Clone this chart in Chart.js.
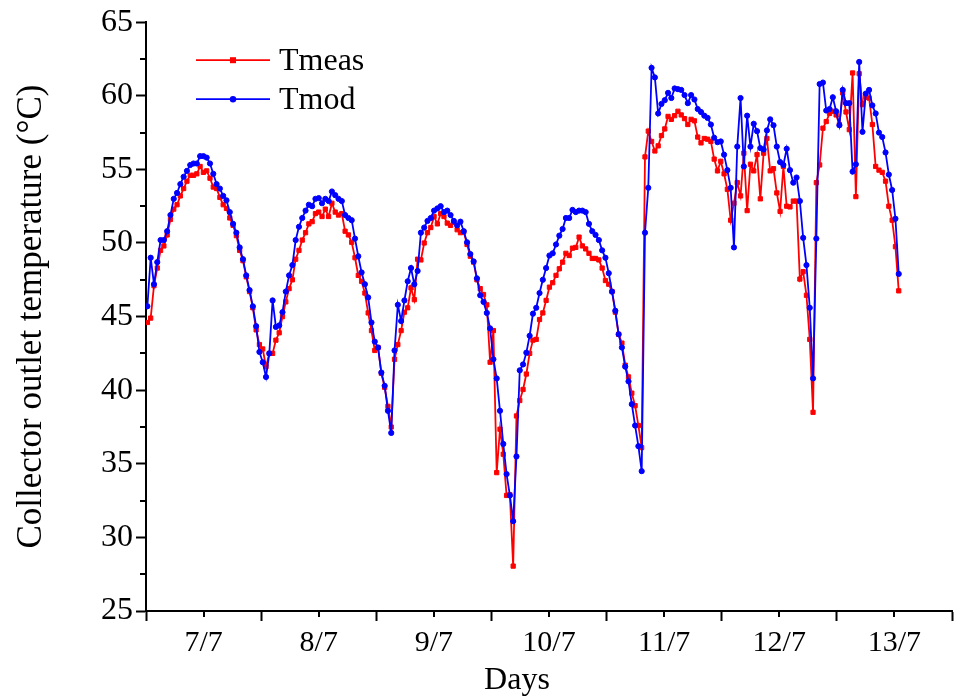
<!DOCTYPE html>
<html lang="en">
<head>
    <meta charset="UTF-8">
    <title>Collector outlet temperature</title>
    <script src="https://cdn.jsdelivr.net/npm/chart.js"></script>
    <style>
        html, body { margin: 0; padding: 0; background: #fff; }
        #wrap { width: 960px; height: 700px; }
    </style>
</head>
<body>
<div id="wrap"><canvas id="tempChart" width="960" height="700"></canvas></div>
<script>
    // Day labels, one per day (centred between the day ticks)
    const dayLabels = ['7/7', '8/7', '9/7', '10/7', '11/7', '12/7', '13/7'];

    // Logging: time of first sample and sample interval, in days from the 7/7 tick
    const firstSample = 0.012;
    const sampleStep = 0.02862;

    // Measured collector outlet temperature, °C
    const tMeas = [
        44.6, 44.9, 47.1, 48.3, 49.5, 49.8, 50.55, 51.6, 52.3, 52.6, 53.2, 53.7, 54.2, 54.6, 54.6, 54.7,
        55.2, 54.8, 54.9, 54.4, 53.8, 53.7, 53.1, 52.6, 52.35, 51.7, 51.2, 50.5, 49.5, 48.8, 47.7, 46.7,
        45.6, 44.1, 43.1, 42.8, 41.6,
        42.5, 42.5, 43.4, 43.9, 45.0, 46.0, 46.9, 47.5, 48.9, 49.5, 50.2, 50.7, 51.3, 51.45, 52.0, 52.1,
        51.8, 52.3, 51.8, 52.7, 52.1, 51.9, 52.0, 50.8, 50.55, 50.05, 49.0, 47.8, 47.4, 46.6, 45.25, 44.05,
        42.7, 42.9, 41.15, 40.2, 38.9, 37.5,
        42.1, 43.1, 44.05, 45.3, 45.6, 46.95, 46.15, 48.9, 48.85, 50.0, 50.7, 51.05, 51.8, 51.3, 52.0, 51.8,
        51.35, 51.2, 51.4, 50.9, 50.7, 50.75, 49.9, 49.1, 48.7, 47.5, 46.9, 46.5, 45.8, 41.9, 44.05,
        34.4, 37.35, 35.65, 32.85, 32.9, 28.05, 38.25, 39.3, 40.05, 41.1, 42.5, 43.4, 43.45, 44.8, 45.25,
        46.1, 47.0, 47.3, 47.8, 48.25, 48.7, 49.3, 49.15, 49.65, 49.7, 50.4, 49.8, 49.6, 49.3, 48.95, 48.95,
        48.85, 48.3, 47.45, 47.2, 46.7, 45.3, 43.8, 43.2, 41.7, 40.9, 39.8, 38.95, 37.6, 36.1,
        55.85, 57.6, 56.9, 56.25, 56.6, 57.3, 57.75, 58.6, 58.4, 58.65, 58.95, 58.7, 58.45, 58.05, 58.4,
        58.3, 57.2, 56.8, 57.1, 57.05, 56.9, 55.7, 54.9, 55.55, 54.7, 53.65, 51.55, 52.7, 54.1, 53.2, 56.1,
        52.2, 55.35, 54.9, 56.0, 53.0, 56.1,
        57.1, 54.9, 55.05, 53.4, 52.15, 55.2, 52.5, 52.45, 52.85, 52.85, 47.55, 48.05, 46.45, 43.45, 38.5,
        54.1, 55.3, 57.8, 58.25, 58.8, 58.95, 58.7, 58.05, 60.2, 58.9, 57.7, 61.55, 53.15, 61.5, 59.4, 59.9,
        59.85, 58.05, 55.2, 54.95, 54.8, 54.2, 52.5, 51.55, 49.75, 46.75
    ];

    // Modelled collector outlet temperature, °C
    const tMod = [
        45.7, 49.0, 47.2, 48.7, 50.2, 50.2, 50.8, 51.9, 53.0, 53.4, 54.0, 54.5, 54.9, 55.3, 55.4, 55.4,
        55.9, 55.9, 55.8, 55.4, 54.7, 54.0, 53.7, 53.2, 52.9, 52.1, 51.3, 50.7, 49.7, 48.9, 47.8, 46.8,
        45.7, 44.35, 42.6, 41.9, 40.9,
        42.5, 46.1, 44.3, 44.4, 45.3, 46.7, 47.8, 48.5, 50.2, 51.1, 51.7, 52.2, 52.6, 52.5, 53.0, 53.05,
        52.7, 53.0, 52.85, 53.5, 53.25, 53.0, 52.85, 51.9, 51.7, 51.55, 50.3, 49.1, 48.0, 47.2, 46.3, 44.6,
        43.3, 42.9, 41.2, 40.3, 38.6, 37.1,
        42.7, 45.8, 44.7, 46.1, 47.4, 48.3, 47.2, 48.1, 50.7, 51.05, 51.5, 51.7, 52.2, 52.35, 52.5, 52.1,
        52.2, 51.9, 51.5, 51.2, 51.45, 50.8, 50.05, 49.25, 48.75, 47.6, 46.45, 46.0, 45.25, 44.2, 42.1,
        40.8, 38.6, 36.35, 34.3, 32.85, 31.1, 35.5, 41.35, 41.75, 42.55, 43.7, 45.2, 45.6, 46.6, 47.5,
        48.3, 49.15, 49.3, 49.9, 50.5, 50.95, 51.7, 51.7, 52.25, 52.1, 52.2, 52.2, 52.1, 51.3, 50.8, 50.55,
        50.2, 49.5, 49.0, 47.95, 46.7, 45.4, 43.8, 42.9, 41.6, 40.6, 39.05, 37.6, 36.2, 34.5,
        50.7, 53.75, 61.9, 61.25, 58.8, 59.45, 59.7, 60.2, 59.85, 60.5, 60.45, 60.4, 60.05, 59.5, 60.05,
        59.75, 59.1, 58.9, 58.65, 58.5, 58.05, 57.15, 56.85, 56.9, 56.0, 54.95, 53.75, 49.7, 56.55, 59.85,
        55.2, 58.65, 56.55, 58.1, 57.6, 56.45, 56.35,
        57.65, 58.4, 58.0, 56.55, 55.5, 55.3, 56.4, 54.95, 54.1, 54.45, 52.85, 50.35, 48.5, 45.6, 40.8,
        50.3, 60.8, 60.9, 59.0, 59.1, 59.9, 58.95, 58.0, 60.4, 59.5, 59.5, 54.85, 55.35, 62.3, 57.55, 60.15,
        60.4, 59.35, 58.8, 57.5, 57.2, 56.15, 54.65, 53.6, 51.65, 47.9
    ];

    const FONT = 'Liberation Serif, Times New Roman, serif';

    // Pair each reading with its sample time
    function toPoints(values) {
        return values.map((v, i) => ({ x: firstSample + i * sampleStep, y: v }));
    }

    // Short minor ticks (half days on x, 2.5 °C on y), drawn outward
    const minorTicks = {
        id: 'minorTicks',
        afterDraw(chart) {
            const ctx = chart.ctx;
            const xs = chart.scales.x;
            const ys = chart.scales.y;
            ctx.save();
            ctx.strokeStyle = '#000';
            ctx.lineWidth = 2;
            ctx.beginPath();
            xs.ticks.forEach(t => {
                if (Number.isInteger(t.value)) return;
                const px = Math.round(xs.getPixelForValue(t.value));
                ctx.moveTo(px, xs.top);
                ctx.lineTo(px, xs.top + 6);
            });
            ys.ticks.forEach(t => {
                if (t.value % 5 === 0) return;
                const py = Math.round(ys.getPixelForValue(t.value));
                ctx.moveTo(ys.right, py);
                ctx.lineTo(ys.right - 6, py);
            });
            ctx.stroke();
            ctx.restore();
        }
    };

    // Legend in the top-left corner of the plot: line + marker + name
    const innerLegend = {
        id: 'innerLegend',
        afterDraw(chart) {
            const ctx = chart.ctx;
            const area = chart.chartArea;
            const x0 = area.left + 50;
            const x1 = area.left + 124;
            ctx.save();
            chart.data.datasets.forEach((ds, i) => {
                const y = area.top + 38 + i * 39;
                ctx.strokeStyle = ds.borderColor;
                ctx.lineWidth = ds.borderWidth;
                ctx.beginPath();
                ctx.moveTo(x0, y);
                ctx.lineTo(x1, y);
                ctx.stroke();
                const mx = (x0 + x1) / 2;
                ctx.fillStyle = ds.pointBackgroundColor;
                ctx.beginPath();
                if (ds.pointStyle === 'rect') {
                    ctx.rect(mx - 3, y - 3, 6, 6);
                } else {
                    ctx.arc(mx, y, 3.2, 0, Math.PI * 2);
                }
                ctx.fill();
                ctx.fillStyle = '#000';
                ctx.font = '32px ' + FONT;
                ctx.textBaseline = 'middle';
                ctx.textAlign = 'left';
                ctx.fillText(ds.label, x1 + 9, y + 1);
            });
            ctx.restore();
        }
    };

    const ctx = document.getElementById('tempChart').getContext('2d');
    const tempChart = new Chart(ctx, {
        type: 'line',
        data: {
            datasets: [
                {
                    label: 'Tmeas',
                    data: toPoints(tMeas),
                    borderColor: '#ff0000',
                    backgroundColor: '#ff0000',
                    pointBackgroundColor: '#ff0000',
                    pointBorderColor: '#ff0000',
                    pointStyle: 'rect',
                    pointRadius: 3,
                    pointBorderWidth: 1,
                    borderWidth: 1.8,
                    order: 1
                },
                {
                    label: 'Tmod',
                    data: toPoints(tMod),
                    borderColor: '#0000ff',
                    backgroundColor: '#0000ff',
                    pointBackgroundColor: '#0000ff',
                    pointBorderColor: '#0000ff',
                    pointStyle: 'circle',
                    pointRadius: 2.6,
                    pointBorderWidth: 1,
                    borderWidth: 1.8,
                    order: 0
                }
            ]
        },
        options: {
            responsive: false,
            animation: false,
            devicePixelRatio: 1,
            layout: { padding: { top: 20, right: 8, left: 0, bottom: 0 } },
            plugins: {
                legend: { display: false },
                tooltip: { enabled: false }
            },
            scales: {
                x: {
                    type: 'linear',
                    min: 0,
                    max: 7,
                    afterFit: scale => { scale.height = 89; },
                    ticks: {
                        stepSize: 0.5,
                        autoSkip: false,
                        maxRotation: 0,
                        padding: 4,
                        color: '#000',
                        font: { family: FONT, size: 30 },
                        callback: v => Number.isInteger(v) ? '' : dayLabels[Math.floor(v)]
                    },
                    grid: {
                        drawOnChartArea: false,
                        drawTicks: true,
                        tickLength: 10,
                        tickWidth: 2,
                        tickColor: c => Number.isInteger(c.tick.value) ? '#000' : 'rgba(0,0,0,0)'
                    },
                    border: { display: true, color: '#000', width: 2 },
                    title: {
                        display: true,
                        // the title sits left of the axis centre in the original
                        text: 'Days\u2003\u2003',
                        color: '#000',
                        font: { family: FONT, size: 32 },
                        padding: { top: 0, bottom: 0 }
                    }
                },
                y: {
                    min: 25,
                    max: 65,
                    afterFit: scale => { scale.width = 146; },
                    ticks: {
                        stepSize: 2.5,
                        autoSkip: false,
                        padding: 3,
                        color: '#000',
                        font: { family: FONT, size: 32 },
                        callback: v => v % 5 === 0 ? v : ''
                    },
                    grid: {
                        drawOnChartArea: false,
                        drawTicks: true,
                        tickLength: 10,
                        tickWidth: 2,
                        tickColor: c => c.tick.value % 5 === 0 ? '#000' : 'rgba(0,0,0,0)'
                    },
                    border: { display: true, color: '#000', width: 2 },
                    title: {
                        display: true,
                        text: 'Collector outlet temperature (°C)',
                        color: '#000',
                        font: { family: FONT, size: 35 },
                        padding: { top: 11, bottom: 0 }
                    }
                }
            }
        },
        plugins: [minorTicks, innerLegend]
    });
</script>
</body>
</html>
